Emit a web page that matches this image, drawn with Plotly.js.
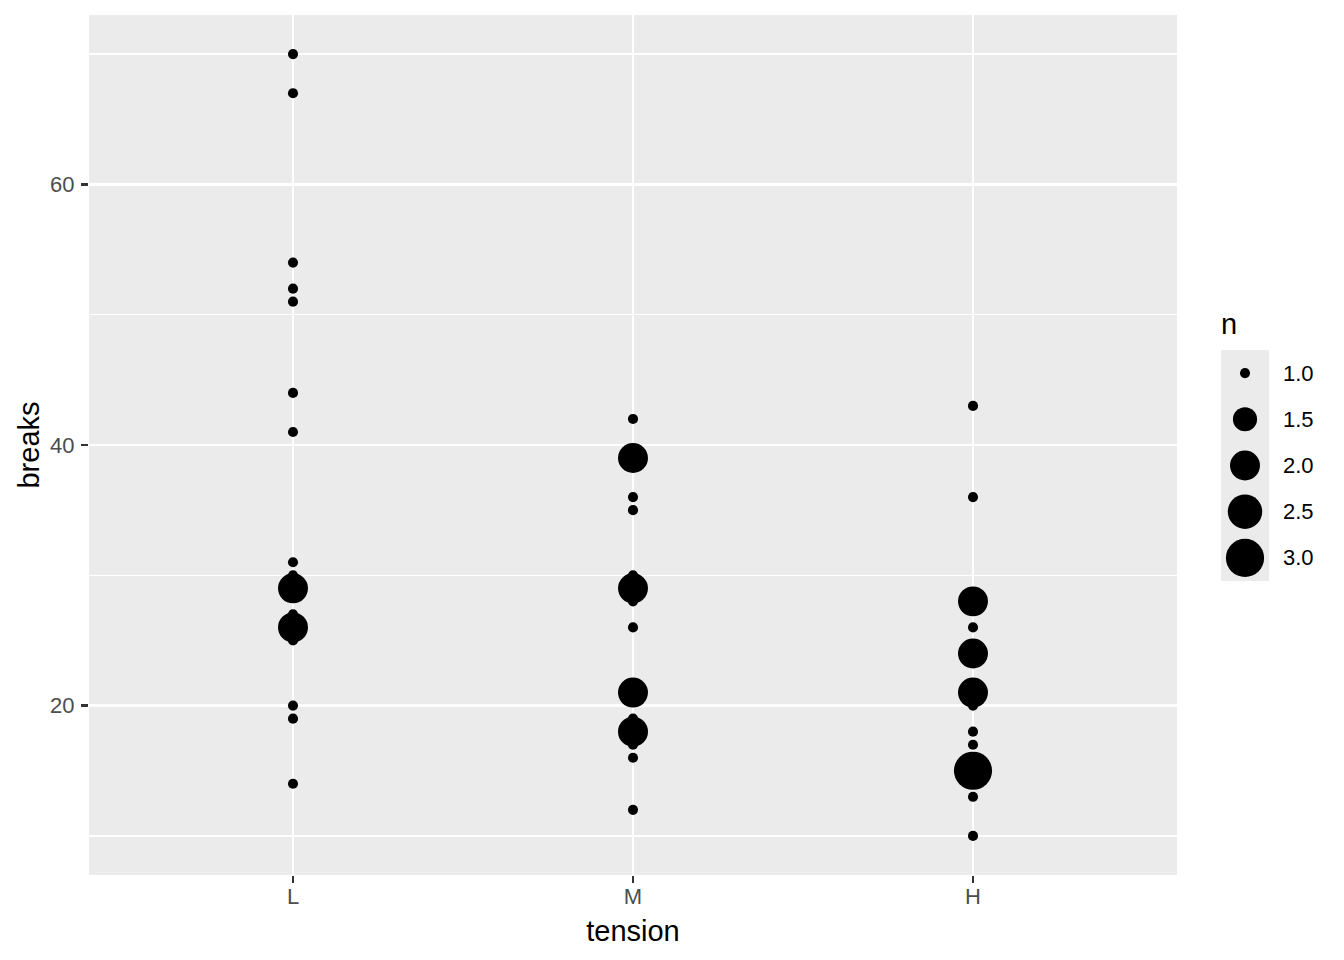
<!DOCTYPE html>
<html><head><meta charset="utf-8">
<script src="https://cdn.plot.ly/plotly-3.0.1.min.js"></script>
<style>body{margin:0;background:#fff}#chart{width:1344px;height:960px}</style>
</head><body><div id="chart"></div>
<script>
// warpbreaks: unique breaks values and their counts per tension
const tensions = ["L", "M", "H"];
const valuesL = [14, 19, 20, 25, 26, 27, 29, 30, 31, 41, 44, 51, 52, 54, 67, 70];
const countsL = [1, 1, 1, 1, 2, 1, 2, 1, 1, 1, 1, 1, 1, 1, 1, 1];
const valuesM = [12, 16, 17, 18, 19, 21, 26, 28, 29, 30, 35, 36, 39, 42];
const countsM = [1, 1, 1, 2, 1, 2, 1, 1, 2, 1, 1, 1, 2, 1];
const valuesH = [10, 13, 15, 16, 17, 18, 20, 21, 24, 26, 28, 36, 43];
const countsH = [1, 1, 3, 1, 1, 1, 1, 2, 2, 1, 2, 1, 1];
const legendBreaks = [1.0, 1.5, 2.0, 2.5, 3.0];
const legendLabels = ["1.0", "1.5", "2.0", "2.5", "3.0"];
const nMin = 1, nMax = 3;

// area-type size scale -> pixel diameter
function sizePx(n) {
  const t = (n - nMin) / (nMax - nMin);
  const mm = 1 + 3.7 * Math.sqrt(t);
  return 2.667 * (mm * 2.845 + 0.945);
}

const FONT = "Liberation Sans, Arial, sans-serif";
const groups = [[valuesL, countsL], [valuesM, countsM], [valuesH, countsH]];
const traces = groups.map((g, i) => ({
  type: "scatter", mode: "markers",
  x: g[0].map(() => tensions[i]), y: g[0],
  marker: {color: "#000000", opacity: 1, size: g[1].map(sizePx), line: {width: 0}},
  showlegend: false, hoverinfo: "skip", xaxis: "x", yaxis: "y"
}));
traces.push({
  type: "scatter", mode: "markers",
  x: legendBreaks.map(() => 0), y: legendBreaks.map((b, i) => i),
  marker: {color: "#000000", opacity: 1, size: legendBreaks.map(sizePx), line: {width: 0}},
  showlegend: false, hoverinfo: "skip", xaxis: "x2", yaxis: "y2", cliponaxis: false
});

const W = 1344, H = 960, mL = 89, mR = 0, mT = 15, mB = 85;
const pw = W - mL - mR, ph = H - mT - mB;
const px = v => (v - mL) / pw;
const py = v => (H - mB - v) / ph;

const annotations = legendLabels.map((lab, i) => ({
  text: lab, xref: "paper", yref: "y2", x: px(1281), y: i,
  xanchor: "left", yanchor: "middle", showarrow: false,
  font: {family: FONT, size: 22, color: "#000000"}
}));
annotations.push({
  text: "n", xref: "paper", yref: "paper", x: px(1219), y: py(324),
  xanchor: "left", yanchor: "middle", showarrow: false,
  font: {family: FONT, size: 29, color: "#000000"}
});

const layout = {
  width: W, height: H,
  margin: {l: mL, r: mR, t: mT, b: mB},
  paper_bgcolor: "#ffffff", plot_bgcolor: "#ebebeb",
  font: {family: FONT},
  showlegend: false,
  xaxis: {
    domain: [0, px(1177)], type: "category", categoryorder: "array", categoryarray: tensions,
    range: [-0.6, 2.6], showgrid: true, gridcolor: "#ffffff", gridwidth: 2.8,
    zeroline: false, showline: false, ticks: "outside", ticklen: 7, tickwidth: 2.8, tickcolor: "#333333",
    ticklabelstandoff: -5,
    tickfont: {family: FONT, size: 22, color: "#4d4d4d"},
    title: {text: "tension", font: {family: FONT, size: 29, color: "#000000"}, standoff: 12},
    fixedrange: true, automargin: false
  },
  yaxis: {
    domain: [0, 1], range: [7, 73], tickmode: "array", tickvals: [20, 40, 60],
    showgrid: true, gridcolor: "#ffffff", gridwidth: 2.8,
    minor: {tickmode: "array", tickvals: [10, 30, 50, 70], showgrid: true, gridcolor: "#ffffff", gridwidth: 1.4, ticks: ""},
    zeroline: false, showline: false, ticks: "outside", ticklen: 7, tickwidth: 2.8, tickcolor: "#333333",
    ticklabelstandoff: 2,
    tickfont: {family: FONT, size: 22, color: "#4d4d4d"},
    title: {text: "breaks", font: {family: FONT, size: 29, color: "#000000"}, standoff: 1},
    fixedrange: true, automargin: false
  },
  xaxis2: {
    domain: [px(1221), px(1269)], anchor: "y2", range: [-1, 1],
    showgrid: false, zeroline: false, showticklabels: false, ticks: "", showline: false, fixedrange: true
  },
  yaxis2: {
    domain: [py(581), py(350)], anchor: "x2", range: [4.5, -0.5],
    showgrid: false, zeroline: false, showticklabels: false, ticks: "", showline: false, fixedrange: true
  },
  annotations: annotations
};

Plotly.newPlot("chart", traces, layout, {displayModeBar: false, staticPlot: true});
</script>
</body></html>
